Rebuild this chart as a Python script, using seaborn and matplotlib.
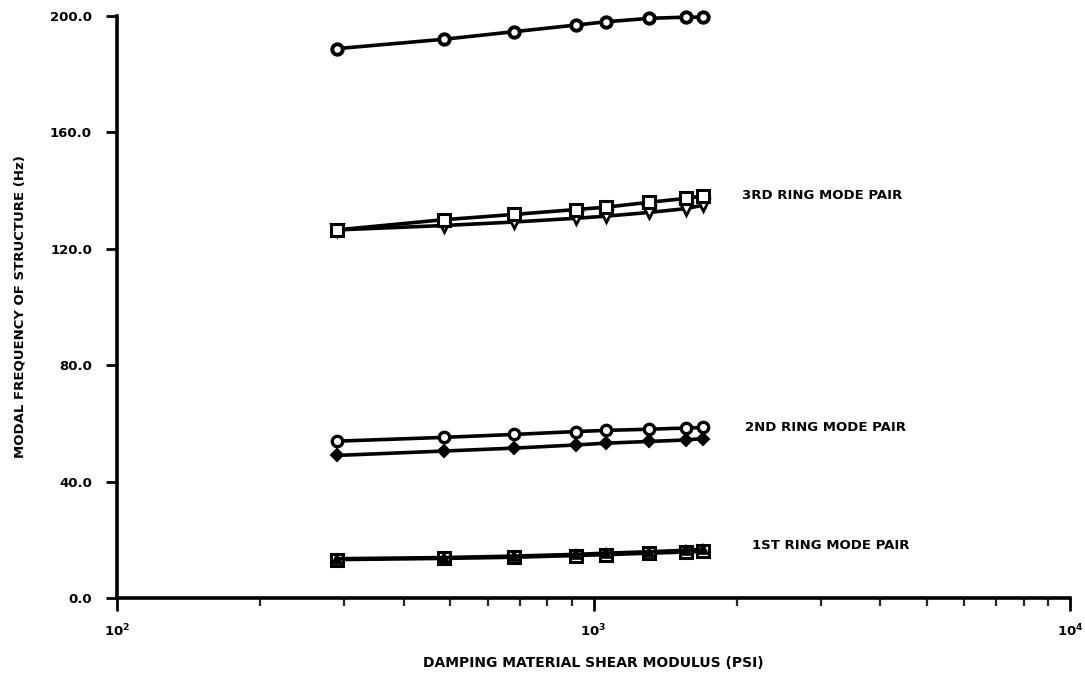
import matplotlib
matplotlib.use("Agg")
import matplotlib.pyplot as plt
from matplotlib.ticker import FixedLocator, NullFormatter
import seaborn as sns

# Shear modulus of the damping material (psi) at which each case was analysed
shear_modulus = [290, 485, 680, 920, 1060, 1310, 1560, 1700]

# Modal frequencies (Hz)
top_mode = [188.8, 192.0, 194.6, 196.9, 198.0, 199.2, 199.6, 199.6]
ring3_a = [126.5, 130.0, 131.8, 133.5, 134.3, 136.0, 137.3, 138.2]
ring3_b = [126.5, 128.0, 129.2, 130.5, 131.2, 132.5, 133.8, 135.0]
ring2_a = [53.9, 55.2, 56.2, 57.2, 57.6, 58.0, 58.4, 58.6]
ring2_b = [49.0, 50.5, 51.5, 52.6, 53.2, 53.8, 54.3, 54.8]
ring1_a = [13.2, 13.6, 14.0, 14.6, 14.9, 15.4, 15.8, 16.0]
ring1_b = [13.5, 13.9, 14.4, 15.0, 15.4, 15.9, 16.4, 16.8]

y_ticks = [0, 40, 80, 120, 160, 200]
y_tick_labels = ["0.0", "40.0", "80.0", "120.0", "160.0", "200.0"]
x_major = [100, 1000, 10000]
x_tick_labels = [r"$\mathbf{10^{2}}$", r"$\mathbf{10^{3}}$", r"$\mathbf{10^{4}}$"]
pair_labels = ["3RD RING MODE PAIR", "2ND RING MODE PAIR", "1ST RING MODE PAIR"]

sns.set_style("ticks")
plt.rcParams["font.family"] = ["DejaVu Sans"]
plt.rcParams["font.weight"] = "bold"
plt.rcParams["axes.labelcolor"] = "black"
plt.rcParams["text.color"] = "black"

fig = plt.figure(figsize=(10.85, 6.77), dpi=100)
ax = fig.add_axes([117 / 1085, 1 - 598 / 677, (1070 - 117) / 1085, (598 - 16) / 677])

line_kw = dict(color="black", linewidth=2.6, clip_on=False, ax=ax)

sns.lineplot(x=shear_modulus, y=top_mode, marker="o", markersize=7.5,
             markerfacecolor="white", markeredgecolor="black", markeredgewidth=2.8, **line_kw)
sns.lineplot(x=shear_modulus, y=ring3_b, marker="v", markersize=8.5,
             markerfacecolor="white", markeredgecolor="black", markeredgewidth=2.0, **line_kw)
sns.lineplot(x=shear_modulus, y=ring3_a, marker="s", markersize=8.5,
             markerfacecolor="white", markeredgecolor="black", markeredgewidth=2.2, **line_kw)
sns.lineplot(x=shear_modulus, y=ring2_a, marker="o", markersize=7.5,
             markerfacecolor="white", markeredgecolor="black", markeredgewidth=2.4, **line_kw)
sns.lineplot(x=shear_modulus, y=ring2_b, marker="D", markersize=6,
             markerfacecolor="black", markeredgecolor="black", markeredgewidth=1.5, **line_kw)
sns.lineplot(x=shear_modulus, y=ring1_a, marker="s", markersize=8.5,
             markerfacecolor="white", markeredgecolor="black", markeredgewidth=2.2, **line_kw)
sns.lineplot(x=shear_modulus, y=ring1_b, marker="^", markersize=6.5,
             markerfacecolor="black", markeredgecolor="black", markeredgewidth=1.2, **line_kw)

ax.set_xscale("log")
ax.set_xlim(100, 10000)
ax.set_ylim(0, 200)

ax.xaxis.set_major_locator(FixedLocator(x_major))
ax.set_xticklabels(x_tick_labels)
minor = [m * d for d in (100, 1000) for m in range(2, 10)]
ax.xaxis.set_minor_locator(FixedLocator(minor))
ax.xaxis.set_minor_formatter(NullFormatter())

ax.set_yticks(y_ticks)
ax.set_yticklabels(y_tick_labels)

for side in ("top", "right"):
    ax.spines[side].set_visible(False)
for side in ("left", "bottom"):
    ax.spines[side].set_linewidth(2.6)
    ax.spines[side].set_color("black")

ax.tick_params(axis="x", which="major", direction="out", length=9, width=2,
               pad=9, labelsize=9.5, colors="black")
ax.tick_params(axis="x", which="minor", direction="out", length=6, width=1.6)
ax.tick_params(axis="y", which="major", direction="out", length=8, width=2,
               pad=10, labelsize=9.5, colors="black")

ax.set_ylabel("MODAL FREQUENCY OF STRUCTURE (Hz)", fontsize=9.5, fontweight="bold",
              color="black", labelpad=17)
ax.set_xlabel("DAMPING MATERIAL SHEAR MODULUS (PSI)", fontsize=10, fontweight="bold",
              color="black", labelpad=12)

text_kw = dict(fontsize=9.5, fontweight="bold", va="center", ha="left", color="black")
ax.text(2050, 138.3, pair_labels[0], **text_kw)
ax.text(2080, 58.7, pair_labels[1], **text_kw)
ax.text(2150, 18.2, pair_labels[2], **text_kw)

fig.savefig("out.png", dpi=100, facecolor="white")
